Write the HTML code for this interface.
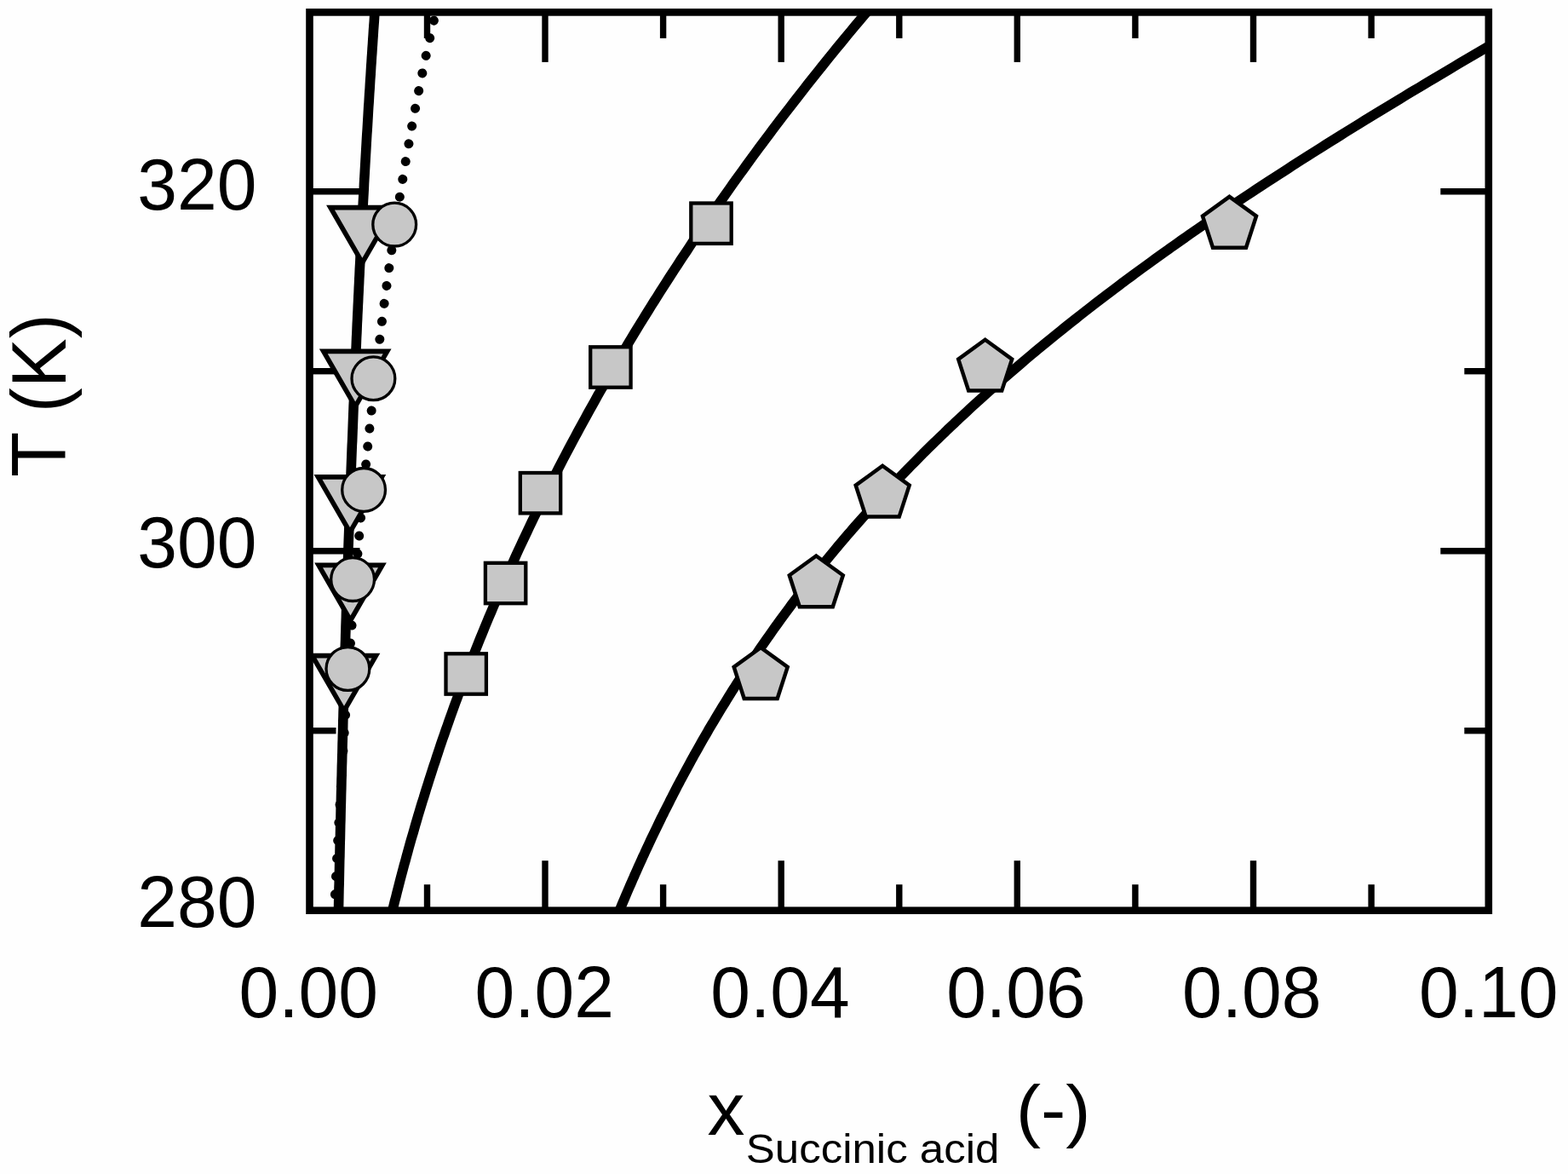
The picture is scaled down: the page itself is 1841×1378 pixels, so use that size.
<!DOCTYPE html>
<html lang="en"><head><meta charset="utf-8"><title>Succinic acid solubility</title>
<style>html,body{margin:0;padding:0;background:#fefefe;}body{width:1841px;height:1378px;overflow:hidden;}svg{display:block;}</style>
</head><body>
<svg width="1841" height="1378" viewBox="0 0 1841 1378">
<rect width="1841" height="1378" fill="#fefefe"/>
<g stroke="#000" stroke-width="7.4" fill="none">
<line x1="501.5" y1="14.4" x2="501.5" y2="44.9"/>
<line x1="501.5" y1="1068.7" x2="501.5" y2="1038.2"/>
<line x1="640.0" y1="14.4" x2="640.0" y2="72.9"/>
<line x1="640.0" y1="1068.7" x2="640.0" y2="1010.2"/>
<line x1="778.6" y1="14.4" x2="778.6" y2="44.9"/>
<line x1="778.6" y1="1068.7" x2="778.6" y2="1038.2"/>
<line x1="917.2" y1="14.4" x2="917.2" y2="72.9"/>
<line x1="917.2" y1="1068.7" x2="917.2" y2="1010.2"/>
<line x1="1055.8" y1="14.4" x2="1055.8" y2="44.9"/>
<line x1="1055.8" y1="1068.7" x2="1055.8" y2="1038.2"/>
<line x1="1194.3" y1="14.4" x2="1194.3" y2="72.9"/>
<line x1="1194.3" y1="1068.7" x2="1194.3" y2="1010.2"/>
<line x1="1332.9" y1="14.4" x2="1332.9" y2="44.9"/>
<line x1="1332.9" y1="1068.7" x2="1332.9" y2="1038.2"/>
<line x1="1471.5" y1="14.4" x2="1471.5" y2="72.9"/>
<line x1="1471.5" y1="1068.7" x2="1471.5" y2="1010.2"/>
<line x1="1610.1" y1="14.4" x2="1610.1" y2="44.9"/>
<line x1="1610.1" y1="1068.7" x2="1610.1" y2="1038.2"/>
<line x1="363.5" y1="857.7" x2="394.5" y2="857.7"/>
<line x1="1747.8" y1="857.7" x2="1719.3" y2="857.7"/>
<line x1="363.5" y1="646.7" x2="422.5" y2="646.7"/>
<line x1="1747.8" y1="646.7" x2="1691.3" y2="646.7"/>
<line x1="363.5" y1="435.7" x2="394.5" y2="435.7"/>
<line x1="1747.8" y1="435.7" x2="1719.3" y2="435.7"/>
<line x1="363.5" y1="224.7" x2="422.5" y2="224.7"/>
<line x1="1747.8" y1="224.7" x2="1691.3" y2="224.7"/>
</g>
<clipPath id="cp"><rect x="363.5" y="14.4" width="1384.3" height="1054.3"/></clipPath>
<g clip-path="url(#cp)" fill="none" stroke="#000" stroke-linejoin="round">
<path d="M511.6,14.4 L510.4,19.7 L509.2,25.0 L507.9,30.3 L506.7,35.6 L505.5,40.9 L504.4,46.2 L503.2,51.5 L502.0,56.8 L500.9,62.1 L499.7,67.4 L498.6,72.7 L497.5,78.0 L496.4,83.3 L495.3,88.6 L494.2,93.9 L493.1,99.2 L492.1,104.5 L491.0,109.8 L490.0,115.1 L488.9,120.4 L487.9,125.7 L486.9,131.0 L485.9,136.3 L484.9,141.6 L483.9,146.8 L482.9,152.1 L482.0,157.4 L481.0,162.7 L480.1,168.0 L479.1,173.3 L478.2,178.6 L477.3,183.9 L476.3,189.2 L475.4,194.5 L474.5,199.8 L473.6,205.1 L472.8,210.4 L471.9,215.7 L471.0,221.0 L470.1,226.3 L469.3,231.6 L468.4,236.9 L467.6,242.2 L466.8,247.5 L465.9,252.8 L465.1,258.1 L464.3,263.4 L463.5,268.7 L462.7,274.0 L461.9,279.3 L461.1,284.6 L460.4,289.9 L459.6,295.2 L458.8,300.5 L458.1,305.8 L457.3,311.1 L456.6,316.4 L455.8,321.7 L455.1,327.0 L454.4,332.3 L453.7,337.6 L453.0,342.9 L452.2,348.2 L451.5,353.5 L450.8,358.8 L450.2,364.1 L449.5,369.4 L448.8,374.7 L448.1,380.0 L447.4,385.3 L446.8,390.6 L446.1,395.9 L445.5,401.2 L444.8,406.5 L444.2,411.7 L443.5,417.0 L442.9,422.3 L442.3,427.6 L441.7,432.9 L441.1,438.2 L440.4,443.5 L439.8,448.8 L439.2,454.1 L438.6,459.4 L438.0,464.7 L437.5,470.0 L436.9,475.3 L436.3,480.6 L435.7,485.9 L435.1,491.2 L434.6,496.5 L434.0,501.8 L433.5,507.1 L432.9,512.4 L432.4,517.7 L431.8,523.0 L431.3,528.3 L430.7,533.6 L430.2,538.9 L429.7,544.2 L429.2,549.5 L428.6,554.8 L428.1,560.1 L427.6,565.4 L427.1,570.7 L426.6,576.0 L426.1,581.3 L425.6,586.6 L425.1,591.9 L424.6,597.2 L424.1,602.5 L423.6,607.8 L423.2,613.1 L422.7,618.4 L422.2,623.7 L421.7,629.0 L421.3,634.3 L420.8,639.6 L420.4,644.9 L419.9,650.2 L419.4,655.5 L419.0,660.8 L418.6,666.1 L418.1,671.4 L417.7,676.6 L417.2,681.9 L416.8,687.2 L416.4,692.5 L415.9,697.8 L415.5,703.1 L415.1,708.4 L414.7,713.7 L414.3,719.0 L413.9,724.3 L413.4,729.6 L413.0,734.9 L412.6,740.2 L412.2,745.5 L411.8,750.8 L411.4,756.1 L411.1,761.4 L410.7,766.7 L410.3,772.0 L409.9,777.3 L409.5,782.6 L409.1,787.9 L408.8,793.2 L408.4,798.5 L408.0,803.8 L407.6,809.1 L407.3,814.4 L406.9,819.7 L406.6,825.0 L406.2,830.3 L405.8,835.6 L405.5,840.9 L405.1,846.2 L404.8,851.5 L404.4,856.8 L404.1,862.1 L403.8,867.4 L403.4,872.7 L403.1,878.0 L402.8,883.3 L402.4,888.6 L402.1,893.9 L401.8,899.2 L401.4,904.5 L401.1,909.8 L400.8,915.1 L400.5,920.4 L400.2,925.7 L399.9,931.0 L399.5,936.3 L399.2,941.5 L398.9,946.8 L398.6,952.1 L398.3,957.4 L398.0,962.7 L397.7,968.0 L397.4,973.3 L397.1,978.6 L396.8,983.9 L396.5,989.2 L396.3,994.5 L396.0,999.8 L395.7,1005.1 L395.4,1010.4 L395.1,1015.7 L394.8,1021.0 L394.6,1026.3 L394.3,1031.6 L394.0,1036.9 L393.7,1042.2 L393.5,1047.5 L393.2,1052.8 L392.9,1058.1 L392.7,1063.4 L392.4,1068.7" stroke-width="11" stroke-linecap="round" stroke-dasharray="0.01 21.08" stroke-dashoffset="-10"/>
<path d="M440.0,14.4 L439.6,19.7 L439.3,25.0 L438.9,30.3 L438.5,35.6 L438.2,40.9 L437.8,46.2 L437.5,51.5 L437.1,56.8 L436.8,62.1 L436.4,67.4 L436.1,72.7 L435.7,78.0 L435.4,83.3 L435.1,88.6 L434.7,93.9 L434.4,99.2 L434.1,104.5 L433.7,109.8 L433.4,115.1 L433.1,120.4 L432.7,125.7 L432.4,131.0 L432.1,136.3 L431.8,141.6 L431.5,146.8 L431.2,152.1 L430.8,157.4 L430.5,162.7 L430.2,168.0 L429.9,173.3 L429.6,178.6 L429.3,183.9 L429.0,189.2 L428.7,194.5 L428.4,199.8 L428.1,205.1 L427.8,210.4 L427.5,215.7 L427.3,221.0 L427.0,226.3 L426.7,231.6 L426.4,236.9 L426.1,242.2 L425.8,247.5 L425.6,252.8 L425.3,258.1 L425.0,263.4 L424.7,268.7 L424.5,274.0 L424.2,279.3 L423.9,284.6 L423.6,289.9 L423.4,295.2 L423.1,300.5 L422.9,305.8 L422.6,311.1 L422.3,316.4 L422.1,321.7 L421.8,327.0 L421.6,332.3 L421.3,337.6 L421.1,342.9 L420.8,348.2 L420.6,353.5 L420.3,358.8 L420.1,364.1 L419.8,369.4 L419.6,374.7 L419.3,380.0 L419.1,385.3 L418.9,390.6 L418.6,395.9 L418.4,401.2 L418.2,406.5 L417.9,411.7 L417.7,417.0 L417.5,422.3 L417.2,427.6 L417.0,432.9 L416.8,438.2 L416.6,443.5 L416.3,448.8 L416.1,454.1 L415.9,459.4 L415.7,464.7 L415.5,470.0 L415.2,475.3 L415.0,480.6 L414.8,485.9 L414.6,491.2 L414.4,496.5 L414.2,501.8 L414.0,507.1 L413.8,512.4 L413.6,517.7 L413.3,523.0 L413.1,528.3 L412.9,533.6 L412.7,538.9 L412.5,544.2 L412.3,549.5 L412.1,554.8 L411.9,560.1 L411.7,565.4 L411.6,570.7 L411.4,576.0 L411.2,581.3 L411.0,586.6 L410.8,591.9 L410.6,597.2 L410.4,602.5 L410.2,607.8 L410.0,613.1 L409.9,618.4 L409.7,623.7 L409.5,629.0 L409.3,634.3 L409.1,639.6 L408.9,644.9 L408.8,650.2 L408.6,655.5 L408.4,660.8 L408.2,666.1 L408.1,671.4 L407.9,676.6 L407.7,681.9 L407.5,687.2 L407.4,692.5 L407.2,697.8 L407.0,703.1 L406.9,708.4 L406.7,713.7 L406.5,719.0 L406.4,724.3 L406.2,729.6 L406.0,734.9 L405.9,740.2 L405.7,745.5 L405.6,750.8 L405.4,756.1 L405.2,761.4 L405.1,766.7 L404.9,772.0 L404.8,777.3 L404.6,782.6 L404.5,787.9 L404.3,793.2 L404.2,798.5 L404.0,803.8 L403.9,809.1 L403.7,814.4 L403.6,819.7 L403.4,825.0 L403.3,830.3 L403.1,835.6 L403.0,840.9 L402.8,846.2 L402.7,851.5 L402.6,856.8 L402.4,862.1 L402.3,867.4 L402.1,872.7 L402.0,878.0 L401.9,883.3 L401.7,888.6 L401.6,893.9 L401.4,899.2 L401.3,904.5 L401.2,909.8 L401.0,915.1 L400.9,920.4 L400.8,925.7 L400.6,931.0 L400.5,936.3 L400.4,941.5 L400.2,946.8 L400.1,952.1 L400.0,957.4 L399.9,962.7 L399.7,968.0 L399.6,973.3 L399.5,978.6 L399.4,983.9 L399.2,989.2 L399.1,994.5 L399.0,999.8 L398.9,1005.1 L398.7,1010.4 L398.6,1015.7 L398.5,1021.0 L398.4,1026.3 L398.3,1031.6 L398.2,1036.9 L398.0,1042.2 L397.9,1047.5 L397.8,1052.8 L397.7,1058.1 L397.6,1063.4 L397.5,1068.7" stroke-width="11.6"/>
<path d="M1017.4,14.4 L1012.9,19.7 L1008.5,25.0 L1004.0,30.3 L999.6,35.6 L995.2,40.9 L990.8,46.2 L986.5,51.5 L982.1,56.8 L977.8,62.1 L973.5,67.4 L969.3,72.7 L965.0,78.0 L960.7,83.3 L956.5,88.6 L952.3,93.9 L948.1,99.2 L944.0,104.5 L939.8,109.8 L935.7,115.1 L931.6,120.4 L927.5,125.7 L923.4,131.0 L919.3,136.3 L915.3,141.6 L911.3,146.8 L907.3,152.1 L903.3,157.4 L899.3,162.7 L895.4,168.0 L891.4,173.3 L887.5,178.6 L883.6,183.9 L879.8,189.2 L875.9,194.5 L872.1,199.8 L868.2,205.1 L864.4,210.4 L860.6,215.7 L856.9,221.0 L853.1,226.3 L849.4,231.6 L845.6,236.9 L841.9,242.2 L838.3,247.5 L834.6,252.8 L830.9,258.1 L827.3,263.4 L823.7,268.7 L820.1,274.0 L816.5,279.3 L812.9,284.6 L809.4,289.9 L805.9,295.2 L802.3,300.5 L798.8,305.8 L795.4,311.1 L791.9,316.4 L788.4,321.7 L785.0,327.0 L781.6,332.3 L778.2,337.6 L774.8,342.9 L771.5,348.2 L768.1,353.5 L764.8,358.8 L761.5,364.1 L758.2,369.4 L754.9,374.7 L751.6,380.0 L748.4,385.3 L745.1,390.6 L741.9,395.9 L738.7,401.2 L735.6,406.5 L732.4,411.7 L729.2,417.0 L726.1,422.3 L723.0,427.6 L719.9,432.9 L716.8,438.2 L713.7,443.5 L710.7,448.8 L707.7,454.1 L704.6,459.4 L701.6,464.7 L698.7,470.0 L695.7,475.3 L692.7,480.6 L689.8,485.9 L686.9,491.2 L684.0,496.5 L681.1,501.8 L678.2,507.1 L675.4,512.4 L672.5,517.7 L669.7,523.0 L666.9,528.3 L664.1,533.6 L661.3,538.9 L658.6,544.2 L655.8,549.5 L653.1,554.8 L650.4,560.1 L647.7,565.4 L645.0,570.7 L642.3,576.0 L639.7,581.3 L637.1,586.6 L634.4,591.9 L631.8,597.2 L629.3,602.5 L626.7,607.8 L624.1,613.1 L621.6,618.4 L619.1,623.7 L616.6,629.0 L614.1,634.3 L611.6,639.6 L609.1,644.9 L606.7,650.2 L604.3,655.5 L601.9,660.8 L599.5,666.1 L597.1,671.4 L594.7,676.6 L592.4,681.9 L590.0,687.2 L587.7,692.5 L585.4,697.8 L583.1,703.1 L580.9,708.4 L578.6,713.7 L576.4,719.0 L574.1,724.3 L571.9,729.6 L569.7,734.9 L567.6,740.2 L565.4,745.5 L563.2,750.8 L561.1,756.1 L559.0,761.4 L556.9,766.7 L554.8,772.0 L552.7,777.3 L550.7,782.6 L548.6,787.9 L546.6,793.2 L544.6,798.5 L542.6,803.8 L540.6,809.1 L538.6,814.4 L536.7,819.7 L534.7,825.0 L532.8,830.3 L530.9,835.6 L529.0,840.9 L527.1,846.2 L525.3,851.5 L523.4,856.8 L521.6,862.1 L519.7,867.4 L517.9,872.7 L516.1,878.0 L514.4,883.3 L512.6,888.6 L510.9,893.9 L509.1,899.2 L507.4,904.5 L505.7,909.8 L504.0,915.1 L502.3,920.4 L500.6,925.7 L499.0,931.0 L497.4,936.3 L495.7,941.5 L494.1,946.8 L492.5,952.1 L490.9,957.4 L489.4,962.7 L487.8,968.0 L486.3,973.3 L484.8,978.6 L483.2,983.9 L481.7,989.2 L480.2,994.5 L478.8,999.8 L477.3,1005.1 L475.9,1010.4 L474.4,1015.7 L473.0,1021.0 L471.6,1026.3 L470.2,1031.6 L468.8,1036.9 L467.5,1042.2 L466.1,1047.5 L464.8,1052.8 L463.4,1058.1 L462.1,1063.4 L460.8,1068.7" stroke-width="11.6"/>
<path d="M1785.7,32.0 L1779.7,35.6 L1773.6,39.1 L1767.6,42.6 L1761.6,46.1 L1755.6,49.7 L1749.6,53.2 L1743.5,56.7 L1737.6,60.2 L1731.6,63.8 L1725.6,67.3 L1719.6,70.8 L1713.6,74.3 L1707.7,77.9 L1701.7,81.4 L1695.8,84.9 L1689.9,88.4 L1684.0,92.0 L1678.0,95.5 L1672.2,99.0 L1666.3,102.6 L1660.4,106.1 L1654.5,109.6 L1648.7,113.1 L1642.8,116.7 L1637.0,120.2 L1631.2,123.7 L1625.4,127.2 L1619.6,130.8 L1613.8,134.3 L1608.1,137.8 L1602.3,141.3 L1596.6,144.9 L1590.9,148.4 L1585.2,151.9 L1579.5,155.4 L1573.8,159.0 L1568.2,162.5 L1562.5,166.0 L1556.9,169.5 L1551.3,173.1 L1545.7,176.6 L1540.1,180.1 L1534.6,183.7 L1529.0,187.2 L1523.5,190.7 L1518.0,194.2 L1512.5,197.8 L1507.1,201.3 L1501.6,204.8 L1496.2,208.3 L1490.7,211.9 L1485.3,215.4 L1480.0,218.9 L1474.6,222.4 L1469.3,226.0 L1463.9,229.5 L1458.6,233.0 L1453.4,236.5 L1448.1,240.1 L1442.8,243.6 L1437.6,247.1 L1432.4,250.6 L1427.2,254.2 L1422.0,257.7 L1416.9,261.2 L1411.8,264.8 L1406.7,268.3 L1401.6,271.8 L1396.5,275.3 L1391.5,278.9 L1386.4,282.4 L1381.4,285.9 L1376.4,289.4 L1371.5,293.0 L1366.5,296.5 L1361.6,300.0 L1356.7,303.5 L1351.8,307.1 L1347.0,310.6 L1342.1,314.1 L1337.3,317.6 L1332.5,321.2 L1327.7,324.7 L1323.0,328.2 L1318.2,331.7 L1313.5,335.3 L1308.8,338.8 L1304.2,342.3 L1299.5,345.9 L1294.9,349.4 L1290.3,352.9 L1285.7,356.4 L1281.1,360.0 L1276.6,363.5 L1272.1,367.0 L1267.6,370.5 L1263.1,374.1 L1258.6,377.6 L1254.2,381.1 L1249.8,384.6 L1245.4,388.2 L1241.0,391.7 L1236.7,395.2 L1232.4,398.7 L1228.1,402.3 L1223.8,405.8 L1219.5,409.3 L1215.3,412.8 L1211.0,416.4 L1206.8,419.9 L1202.7,423.4 L1198.5,427.0 L1194.4,430.5 L1190.3,434.0 L1186.2,437.5 L1182.1,441.1 L1178.0,444.6 L1174.0,448.1 L1170.0,451.6 L1166.0,455.2 L1162.0,458.7 L1158.1,462.2 L1154.2,465.7 L1150.3,469.3 L1146.4,472.8 L1142.5,476.3 L1138.7,479.8 L1134.8,483.4 L1131.0,486.9 L1127.3,490.4 L1123.5,493.9 L1119.8,497.5 L1116.0,501.0 L1112.3,504.5 L1108.7,508.1 L1105.0,511.6 L1101.4,515.1 L1097.7,518.6 L1094.1,522.2 L1090.5,525.7 L1087.0,529.2 L1083.4,532.7 L1079.9,536.3 L1076.4,539.8 L1072.9,543.3 L1069.5,546.8 L1066.0,550.4 L1062.6,553.9 L1059.2,557.4 L1055.8,560.9 L1052.5,564.5 L1049.1,568.0 L1045.8,571.5 L1042.5,575.0 L1039.2,578.6 L1035.9,582.1 L1032.7,585.6 L1029.4,589.2 L1026.2,592.7 L1023.0,596.2 L1019.8,599.7 L1016.7,603.3 L1013.5,606.8 L1010.4,610.3 L1007.3,613.8 L1004.2,617.4 L1001.1,620.9 L998.1,624.4 L995.0,627.9 L992.0,631.5 L989.0,635.0 L986.0,638.5 L983.1,642.0 L980.1,645.6 L977.2,649.1 L974.3,652.6 L971.4,656.1 L968.5,659.7 L965.6,663.2 L962.8,666.7 L960.0,670.3 L957.2,673.8 L954.4,677.3 L951.6,680.8 L948.8,684.4 L946.1,687.9 L943.3,691.4 L940.6,694.9 L937.9,698.5 L935.2,702.0 L932.6,705.5 L929.9,709.0 L927.3,712.6 L924.7,716.1 L922.1,719.6 L919.5,723.1 L916.9,726.7 L914.4,730.2 L911.8,733.7 L909.3,737.2 L906.8,740.8 L904.3,744.3 L901.8,747.8 L899.3,751.4 L896.9,754.9 L894.4,758.4 L892.0,761.9 L889.6,765.5 L887.2,769.0 L884.8,772.5 L882.5,776.0 L880.1,779.6 L877.8,783.1 L875.4,786.6 L873.1,790.1 L870.8,793.7 L868.5,797.2 L866.3,800.7 L864.0,804.2 L861.8,807.8 L859.5,811.3 L857.3,814.8 L855.1,818.3 L852.9,821.9 L850.8,825.4 L848.6,828.9 L846.4,832.5 L844.3,836.0 L842.2,839.5 L840.1,843.0 L838.0,846.6 L835.9,850.1 L833.8,853.6 L831.7,857.1 L829.7,860.7 L827.6,864.2 L825.6,867.7 L823.6,871.2 L821.6,874.8 L819.6,878.3 L817.6,881.8 L815.6,885.3 L813.7,888.9 L811.7,892.4 L809.8,895.9 L807.9,899.4 L806.0,903.0 L804.1,906.5 L802.2,910.0 L800.3,913.6 L798.4,917.1 L796.6,920.6 L794.7,924.1 L792.9,927.7 L791.1,931.2 L789.3,934.7 L787.4,938.2 L785.7,941.8 L783.9,945.3 L782.1,948.8 L780.3,952.3 L778.6,955.9 L776.8,959.4 L775.1,962.9 L773.4,966.4 L771.7,970.0 L770.0,973.5 L768.3,977.0 L766.6,980.5 L764.9,984.1 L763.2,987.6 L761.6,991.1 L759.9,994.7 L758.3,998.2 L756.7,1001.7 L755.0,1005.2 L753.4,1008.8 L751.8,1012.3 L750.2,1015.8 L748.7,1019.3 L747.1,1022.9 L745.5,1026.4 L744.0,1029.9 L742.4,1033.4 L740.9,1037.0 L739.3,1040.5 L737.8,1044.0 L736.3,1047.5 L734.8,1051.1 L733.3,1054.6 L731.8,1058.1 L730.3,1061.6 L728.8,1065.2 L727.4,1068.7" stroke-width="11.6"/>
</g>
<rect x="363.5" y="14.4" width="1384.3" height="1054.3" fill="none" stroke="#000" stroke-width="8.6"/>
<g fill="#c7c7c7" stroke="#000" stroke-linejoin="miter">
<polygon points="388.0,243.6 462.8,243.6 425.4,308.4" stroke-width="5.7"/>
<polygon points="379.8,412.3 454.6,412.3 417.2,477.1" stroke-width="5.7"/>
<polygon points="373.5,559.8 448.3,559.8 410.9,624.6" stroke-width="5.7"/>
<polygon points="374.1,663.4 448.9,663.4 411.5,728.2" stroke-width="5.7"/>
<polygon points="366.6,769.6 441.4,769.6 404.0,834.4" stroke-width="5.7"/>
<circle cx="463.2" cy="263.6" r="25.4" stroke-width="3.3"/>
<circle cx="438.4" cy="444.3" r="25.4" stroke-width="3.3"/>
<circle cx="427.1" cy="574.9" r="25.4" stroke-width="3.3"/>
<circle cx="414.1" cy="680.1" r="25.4" stroke-width="3.3"/>
<circle cx="408.4" cy="785.0" r="25.4" stroke-width="3.3"/>
<rect x="811.3" y="238.5" width="47.4" height="47.4" stroke-width="4.3"/>
<rect x="693.2" y="407.3" width="47.4" height="47.4" stroke-width="4.3"/>
<rect x="610.8" y="555.0" width="47.4" height="47.4" stroke-width="4.3"/>
<rect x="569.9" y="660.8" width="47.4" height="47.4" stroke-width="4.3"/>
<rect x="523.5" y="767.3" width="47.4" height="47.4" stroke-width="4.3"/>
<polygon points="1443.5,230.9 1475.0,253.7 1463.0,290.7 1424.0,290.7 1412.0,253.7" stroke-width="4.5"/>
<polygon points="1156.7,398.8 1188.2,421.6 1176.2,458.6 1137.2,458.6 1125.2,421.6" stroke-width="4.5"/>
<polygon points="1036.2,546.8 1067.7,569.6 1055.7,606.6 1016.7,606.6 1004.7,569.6" stroke-width="4.5"/>
<polygon points="958.3,652.5 989.8,675.3 977.8,712.3 938.8,712.3 926.8,675.3" stroke-width="4.5"/>
<polygon points="893.2,760.1 924.7,782.9 912.7,819.9 873.7,819.9 861.7,782.9" stroke-width="4.5"/>
</g>
<g font-family="Liberation Sans, Arial, sans-serif" fill="#000">
<text transform="translate(301.5,246.2) scale(1,1.015)" font-size="84" text-anchor="end">320</text>
<text transform="translate(301.5,666.2) scale(1,1.015)" font-size="84" text-anchor="end">300</text>
<text transform="translate(301.5,1087.7) scale(1,1.015)" font-size="84" text-anchor="end">280</text>
<text transform="translate(362.3,1194.2) scale(1,1.015)" font-size="84" text-anchor="middle">0.00</text>
<text transform="translate(639.2,1194.2) scale(1,1.015)" font-size="84" text-anchor="middle">0.02</text>
<text transform="translate(916.0,1194.2) scale(1,1.015)" font-size="84" text-anchor="middle">0.04</text>
<text transform="translate(1192.9,1194.2) scale(1,1.015)" font-size="84" text-anchor="middle">0.06</text>
<text transform="translate(1469.7,1194.2) scale(1,1.015)" font-size="84" text-anchor="middle">0.08</text>
<text transform="translate(1747.8,1194.2) scale(1,1.015)" font-size="84" text-anchor="middle">0.10</text>
<text transform="translate(76.6,464.2) rotate(-90) scale(1,1.05)" font-size="87" text-anchor="middle">T (K)</text>
<text transform="translate(830.5,1331.7) scale(1,0.98)" font-size="88">x</text>
<text transform="translate(875.8,1364.9) scale(1,0.94)" font-size="51">Succinic acid</text>
<text transform="translate(1192.7,1330.5) scale(1,0.937)" font-size="88">(-)</text>
</g>
</svg>
</body></html>
